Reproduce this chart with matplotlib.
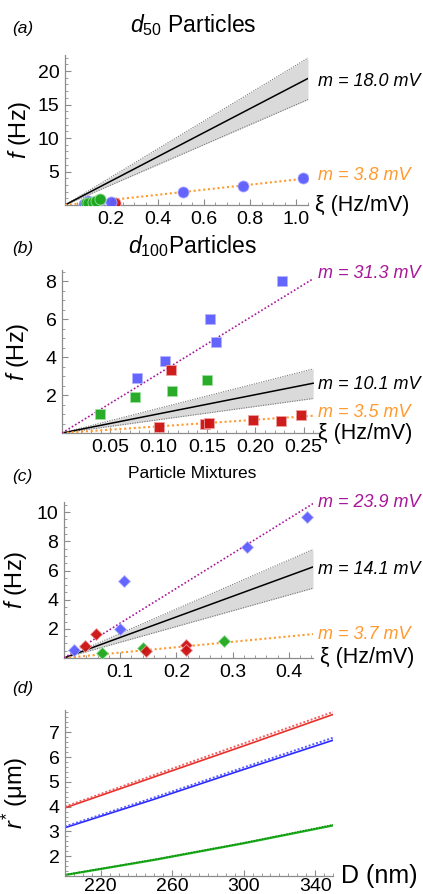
import numpy as np
import matplotlib
matplotlib.use('Agg')
import matplotlib.pyplot as plt
from matplotlib.ticker import MultipleLocator, FixedLocator

plt.rcParams['font.family'] = ['Liberation Sans', 'DejaVu Sans']
plt.rcParams['mathtext.fontset'] = 'custom'
plt.rcParams['mathtext.rm'] = 'Liberation Sans'
plt.rcParams['mathtext.it'] = 'Liberation Sans:italic'

# colours (marker face, light halo)
BLUE = ('#5c5cff', '#b4b4ff')
GREEN = ('#1ea81e', '#9ee09e')
RED = ('#cc1111', '#f0a0a0')
ORANGE = '#ff9a2e'
MAGENTA = '#a8169a'
BAND = '#dadada'

# ---- panel (a) : d50 particles
a_blue_x = [0.08, 0.10, 0.15, 0.20, 0.51, 0.77, 1.03]
a_blue_y = [0.2, 0.6, 0.7, 0.4, 1.9, 2.85, 4.1]
a_green_x = [0.09, 0.10, 0.12, 0.135, 0.15]
a_green_y = [0.3, 0.25, 0.5, 0.6, 0.85]
a_red_x = [0.215]
a_red_y = [0.35]
a_fit = 18.0
a_band = [15.0, 20.9]
a_low = 3.8

# ---- panel (b) : d100 particles
b_blue_x = [0.078, 0.107, 0.153, 0.159, 0.228]
b_blue_y = [2.9, 3.8, 6.0, 4.8, 8.0]
b_green_x = [0.039, 0.076, 0.114, 0.150]
b_green_y = [1.0, 1.9, 2.2, 2.8]
b_red_x = [0.113, 0.100, 0.148, 0.152, 0.198, 0.227, 0.247]
b_red_y = [3.3, 0.3, 0.45, 0.55, 0.7, 0.65, 0.95]
b_high = 31.3
b_fit = 10.1
b_band = [7.0, 13.0]
b_low = 3.5

# ---- panel (c) : mixtures
c_blue_x = [0.018, 0.100, 0.107, 0.325, 0.433]
c_blue_y = [0.55, 2.0, 5.3, 7.6, 9.7]
c_red_x = [0.037, 0.057, 0.145, 0.217, 0.217]
c_red_y = [0.85, 1.65, 0.45, 0.88, 0.55]
c_green_x = [0.068, 0.140, 0.284]
c_green_y = [0.32, 0.7, 1.2]
c_high = 23.9
c_fit = 14.1
c_band = [10.8, 16.8]
c_low = 3.7

# ---- panel (d) : r* vs D
d_D = [200, 250, 300, 350]
d_red = [3.95, 5.2, 6.45, 7.72]
d_red_dot = [4.0, 5.28, 6.55, 7.82]
d_blue = [3.15, 4.3, 5.5, 6.68]
d_blue_dot = [3.2, 4.37, 5.58, 6.78]
d_green = [1.24, 1.85, 2.52, 3.24]
d_green_dot = [1.25, 1.87, 2.54, 3.27]

fig = plt.figure(figsize=(4.23, 8.94), dpi=100)
W, H = 423.0, 894.0


def make_axes(x0, x1, ytop, ybot):
    return fig.add_axes([x0 / W, 1 - ybot / H, (x1 - x0) / W, (ybot - ytop) / H])


def style(ax, xmaj, xmin_, ymaj, ymin_):
    for s in ['top', 'right']:
        ax.spines[s].set_visible(False)
    for s in ['left', 'bottom']:
        ax.spines[s].set_color('#8c8c8c')
        ax.spines[s].set_linewidth(0.9)
    ax.xaxis.set_major_locator(FixedLocator(xmaj))
    ax.yaxis.set_major_locator(FixedLocator(ymaj))
    ax.xaxis.set_minor_locator(MultipleLocator(xmin_))
    ax.yaxis.set_minor_locator(MultipleLocator(ymin_))
    ax.tick_params(which='both', direction='in', color='#8c8c8c', labelsize=14)
    ax.tick_params(which='major', length=4.5, width=0.8)
    ax.tick_params(which='minor', length=2.5, width=0.6)
    ax.tick_params(axis='x', pad=4)
    ax.tick_params(axis='y', pad=4)
    ax.patch.set_visible(False)


def fits(ax, xmax, fit, band, low, high=None):
    xs = np.array([0, xmax])
    ax.fill_between(xs, band[0] * xs, band[1] * xs, color=BAND, lw=0, zorder=1)
    ax.plot(xs, band[0] * xs, color='#777777', ls=(0, (1, 1.2)), lw=0.8, zorder=2)
    ax.plot(xs, band[1] * xs, color='#777777', ls=(0, (1, 1.2)), lw=0.8, zorder=2)
    ax.plot(xs, fit * xs, color='black', lw=1.1, zorder=3)
    ax.plot(xs, low * xs, color=ORANGE, ls=(0, (1, 1.3)), lw=1.5, zorder=3)
    if high is not None:
        ax.plot(xs, high * xs, color=MAGENTA, ls=(0, (1, 1.3)), lw=1.2, zorder=3)


def pts(ax, x, y, c, m, ms):
    ax.plot(x, y, ls='none', marker=m, ms=ms, color=c[0], mec=c[1], mew=0.6,
            alpha=0.95, zorder=5)


def labels(ax, ylab, xlab, xoff=1.03):
    ax.set_ylabel(ylab, fontsize=17, labelpad=0)
    ax.text(xoff, 0, xlab, transform=ax.transAxes, fontsize=15.5,
            ha='left', va='center')


# (a)
ax = make_axes(65, 308, 55, 205)
ax.set_xlim(0, 1.05)
ax.set_ylim(0, 22.4)
fits(ax, 1.05, a_fit, a_band, a_low)
pts(ax, a_red_x, a_red_y, RED, 'o', 8)
pts(ax, a_blue_x, a_blue_y, BLUE, 'o', 8)
pts(ax, a_green_x, a_green_y, GREEN, 'o', 8)
style(ax, [0.2, 0.4, 0.6, 0.8, 1.0], 0.05, [5, 10, 15, 20], 1)
labels(ax, r'$f$ (Hz)', u'\u03be (Hz/mV)')
ax.yaxis.set_label_coords(-0.13, 0.5)
ax.text(1.04, 0.82, 'm = 18.0 mV', transform=ax.transAxes, fontsize=13,
        style='italic', color='black', va='center')
ax.text(1.04, 0.20, 'm = 3.8 mV', transform=ax.transAxes, fontsize=13,
        style='italic', color=ORANGE, va='center')
fig.text(12 / W, 1 - 29 / H, '(a)', fontsize=12.5, style='italic', va='center')
fig.text(193 / W, 1 - 25 / H, r'$d_{\mathit{50}}$ Particles', fontsize=16.5,
         ha='center', va='center')

# (b)
ax = make_axes(62, 318, 270, 433)
ax.set_xlim(0, 0.265)
ax.set_ylim(0, 8.6)
fits(ax, 0.26, b_fit, b_band, b_low, b_high)
pts(ax, b_blue_x, b_blue_y, BLUE, 's', 7)
pts(ax, b_green_x, b_green_y, GREEN, 's', 7)
pts(ax, b_red_x, b_red_y, RED, 's', 7)
style(ax, [0.05, 0.10, 0.15, 0.20, 0.25], 0.01, [2, 4, 6, 8], 0.5)
ax.xaxis.set_major_formatter(plt.FuncFormatter(lambda v, p: '%.2f' % v))
labels(ax, r'$f$ (Hz)', u'\u03be (Hz/mV)', xoff=1.0)
ax.yaxis.set_label_coords(-0.12, 0.5)
ax.text(1.0, 0.98, 'm = 31.3 mV', transform=ax.transAxes, fontsize=13,
        style='italic', color=MAGENTA, va='center')
ax.text(1.0, 0.295, 'm = 10.1 mV', transform=ax.transAxes, fontsize=13,
        style='italic', color='black', va='center')
ax.text(1.0, 0.125, 'm = 3.5 mV', transform=ax.transAxes, fontsize=13,
        style='italic', color=ORANGE, va='center')
fig.text(12 / W, 1 - 248 / H, '(b)', fontsize=12.5, style='italic', va='center')
fig.text(192 / W, 1 - 246 / H, r'$d_{\mathit{100}}$Particles', fontsize=16.5,
         ha='center', va='center')

# (c)
ax = make_axes(64, 313, 502, 658)
ax.set_xlim(0, 0.443)
ax.set_ylim(0, 10.7)
fits(ax, 0.443, c_fit, c_band, c_low, c_high)
pts(ax, c_blue_x, c_blue_y, BLUE, 'D', 6)
pts(ax, c_green_x, c_green_y, GREEN, 'D', 6)
pts(ax, c_red_x, c_red_y, RED, 'D', 6)
style(ax, [0.1, 0.2, 0.3, 0.4], 0.02, [2, 4, 6, 8, 10], 0.5)
labels(ax, r'$f$ (Hz)', u'\u03be (Hz/mV)', xoff=1.03)
ax.yaxis.set_label_coords(-0.14, 0.5)
ax.text(1.02, 1.0, 'm = 23.9 mV', transform=ax.transAxes, fontsize=13,
        style='italic', color=MAGENTA, va='center')
ax.text(1.02, 0.565, 'm = 14.1 mV', transform=ax.transAxes, fontsize=13,
        style='italic', color='black', va='center')
ax.text(1.02, 0.148, 'm = 3.7 mV', transform=ax.transAxes, fontsize=13,
        style='italic', color=ORANGE, va='center')
fig.text(12 / W, 1 - 476 / H, '(c)', fontsize=12.5, style='italic', va='center')
fig.text(192 / W, 1 - 474 / H, 'Particle Mixtures', fontsize=12.5,
         ha='center', va='center')

# (d)
ax = make_axes(65, 333, 710, 876)
ax.set_xlim(200, 350)
ax.set_ylim(1.2, 7.9)
ax.plot(d_D, d_red, color='#e8302a', lw=1.2)
ax.plot(d_D, d_red_dot, color='#f06060', ls=(0, (1, 1)), lw=1.4)
ax.plot(d_D, d_blue, color='#2a2aff', lw=1.2)
ax.plot(d_D, d_blue_dot, color='#5a5aff', ls=(0, (1, 1)), lw=1.4)
ax.plot(d_D, d_green, color='#1ab01a', lw=1.6)
ax.plot(d_D, d_green_dot, color='#118811', ls=(0, (1, 1)), lw=1.0)
style(ax, [220, 260, 300, 340], 5, [2, 3, 4, 5, 6, 7], 0.2)
ax.tick_params(axis='x', pad=1.5)
ax.set_ylabel(r'$r^{*}$ ($\mathrm{\mu}$m)', fontsize=17, labelpad=0)
ax.yaxis.set_label_coords(-0.13, 0.5)
ax.text(1.03, 0, 'D (nm)', transform=ax.transAxes, fontsize=18,
        ha='left', va='center')
fig.text(12 / W, 1 - 688 / H, '(d)', fontsize=12.5, style='italic', va='center')

fig.savefig('out.png', dpi=100)
